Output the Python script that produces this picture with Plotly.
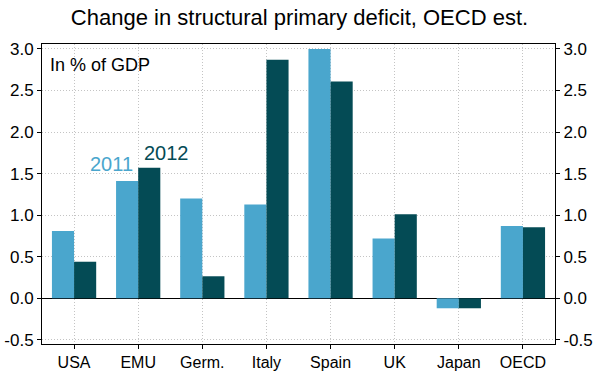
import plotly.graph_objects as go

categories = ["USA", "EMU", "Germ.", "Italy", "Spain", "UK", "Japan", "OECD"]
values_2011 = [0.81, 1.41, 1.20, 1.13, 3.00, 0.72, -0.12, 0.87]
values_2012 = [0.44, 1.57, 0.265, 2.87, 2.61, 1.01, -0.12, 0.855]
tick_vals = [-0.5, 0.0, 0.5, 1.0, 1.5, 2.0, 2.5, 3.0]
tick_text = ["-0.5", "0.0", "0.5", "1.0", "1.5", "2.0", "2.5", "3.0"]

c2011 = "#4aa6cd"
c2012 = "#044b55"
font = "Liberation Sans, Arial, sans-serif"
grid = "#c4c4c4"

fig = go.Figure()
fig.add_trace(go.Bar(x=categories, y=values_2011, name="2011", marker_color=c2011,
                     marker_line_width=0))
fig.add_trace(go.Bar(x=categories, y=values_2012, name="2012", marker_color=c2012,
                     marker_line_width=0))
# invisible trace for right axis
fig.add_trace(go.Scatter(x=categories, y=values_2011, yaxis="y2", mode="markers",
                         marker=dict(opacity=0), showlegend=False, hoverinfo="skip"))

yr = [-0.55, 3.06]
fig.update_layout(
    width=599, height=374,
    margin=dict(l=42, r=44, t=44, b=30, autoexpand=False),
    paper_bgcolor="white", plot_bgcolor="white",
    showlegend=False,
    barmode="group", bargap=0.31, bargroupgap=0,
    font=dict(family=font, color="#000000", size=17),
    title=dict(text="Change in structural primary deficit, OECD est.",
               x=0.5, xanchor="center", y=0.955, yanchor="middle",
               font=dict(size=22, family=font, color="#000000"), automargin=False),
    xaxis=dict(type="category", range=[-0.5, 7.5], showgrid=True, automargin=False,
               gridcolor=grid, griddash="1px,2px", gridwidth=1,
               showline=True, linecolor="black", linewidth=1, mirror=True,
               ticks="outside", ticklen=4, tickcolor="black",
               tickfont=dict(size=16, family=font)),
    yaxis=dict(range=yr, tickvals=tick_vals, ticktext=tick_text, automargin=False,
               showgrid=True, gridcolor=grid, griddash="1px,2px", gridwidth=1,
               zeroline=True, zerolinecolor="black", zerolinewidth=1,
               showline=True, linecolor="black", linewidth=1, mirror=True,
               ticks="outside", ticklen=4, tickcolor="black",
               tickfont=dict(size=17, family=font)),
    yaxis2=dict(range=yr, tickvals=tick_vals, ticktext=tick_text, overlaying="y",
                side="right", showgrid=False, zeroline=False, automargin=False,
                ticks="outside", ticklen=4, tickcolor="black",
                tickfont=dict(size=17, family=font)),
    annotations=[
        dict(text="In % of GDP", xref="paper", yref="paper", x=0.012, y=0.93,
             xanchor="left", yanchor="middle", showarrow=False,
             font=dict(size=18, family=font, color="#000000")),
        dict(text="2011", xref="x", yref="y", x=0.59, y=1.62,
             xanchor="center", yanchor="middle", showarrow=False,
             font=dict(size=20, family=font, color=c2011)),
        dict(text="2012", xref="x", yref="y", x=1.44, y=1.75,
             xanchor="center", yanchor="middle", showarrow=False,
             font=dict(size=20, family=font, color=c2012)),
    ],
)

fig.write_html("out.html")
